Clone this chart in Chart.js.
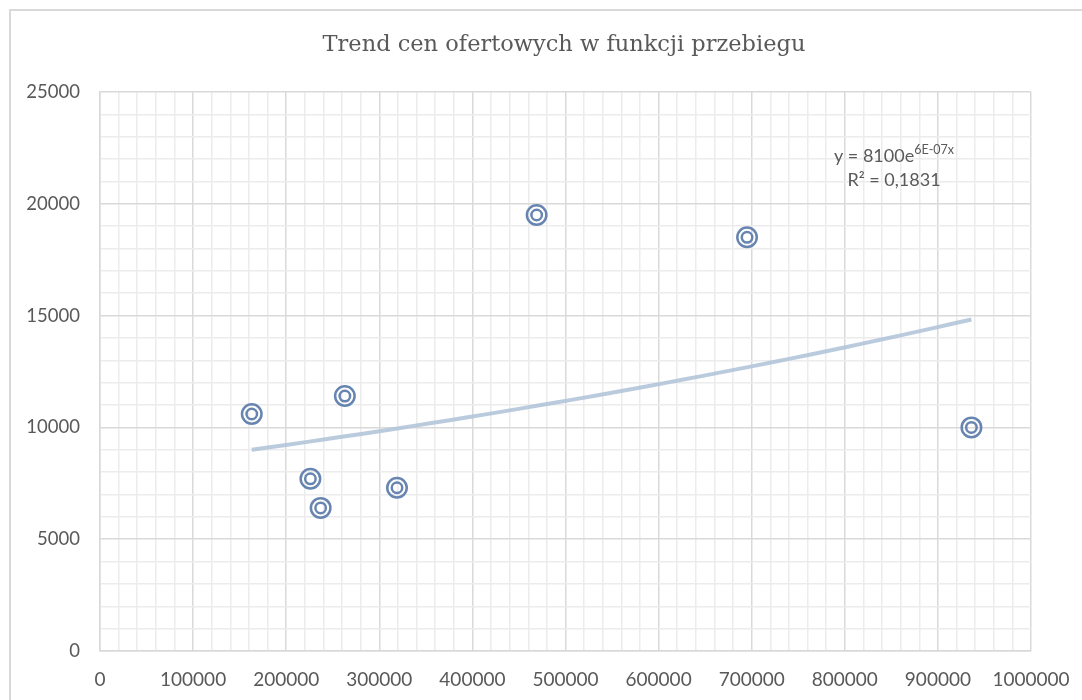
<!DOCTYPE html>
<html>
<head>
<meta charset="utf-8">
<script src="https://cdn.jsdelivr.net/npm/chart.js@4"></script>
<style>
  html, body { margin: 0; padding: 0; background: #fff; }
  canvas { display: block; }
</style>
</head>
<body>
<canvas id="trendChart" width="1082" height="700"></canvas>
<script>
// Cena ofertowa vs przebieg
const mileage = [163000, 226000, 237000, 263000, 319000, 469000, 695000, 936000];
const prices = [10600, 7700, 6400, 11400, 7300, 19500, 18500, 10000];

const chartTitle = 'Trend cen ofertowych w funkcji przebiegu';
const eqMain = 'y = 8100e';
const eqExp = '6E-07x';
const eqR2 = 'R² = 0,1831';

const MARKER = '#6785b0';
const TICK_COLOR = '#595959';
const MAJOR = '#d9d9d9';
const MINOR = '#ececec';

// exponential trendline, least squares on ln(y) like Excel does
function expFit(xs, ys) {
  const n = xs.length;
  const ls = ys.map(v => Math.log(v));
  const mx = xs.reduce((s, v) => s + v, 0) / n;
  const ml = ls.reduce((s, v) => s + v, 0) / n;
  let sxy = 0, sxx = 0;
  xs.forEach((x, i) => { sxy += (x - mx) * (ls[i] - ml); sxx += (x - mx) ** 2; });
  const b = sxy / sxx;
  return { a: Math.exp(ml - b * mx), b };
}

const fit = expFit(mileage, prices);
const xMin = Math.min(...mileage);
const xMax = Math.max(...mileage);
const trendPts = [];
for (let i = 0; i <= 40; i++) {
  const x = xMin + (xMax - xMin) * i / 40;
  trendPts.push({ x, y: fit.a * Math.exp(fit.b * x) });
}

const points = mileage.map((x, i) => ({ x, y: prices[i] }));

// outer frame, title + equation label
const decorPlugin = {
  id: 'decor',
  beforeDraw(chart) {
    const c = chart.ctx;
    c.save();
    c.strokeStyle = '#d9d9d9';
    c.lineWidth = 2;
    c.strokeRect(10, 10, 1200, 900);
    c.fillStyle = TICK_COLOR;
    c.font = '22.5px "DejaVu Serif"';
    c.textAlign = 'center';
    c.textBaseline = 'middle';
    c.fillText(chartTitle, 564, 45);
    c.restore();
  },
  afterDraw(chart) {
    const c = chart.ctx;
    c.save();
    c.fillStyle = TICK_COLOR;
    c.textBaseline = 'alphabetic';
    c.font = '18px Lato';
    const w1 = c.measureText(eqMain).width;
    c.font = '12.5px Lato';
    const w2 = c.measureText(eqExp).width;
    const left = 894 - (w1 + w2) / 2;
    c.font = '18px Lato';
    c.textAlign = 'left';
    c.fillText(eqMain, left, 162);
    c.font = '12.5px Lato';
    c.fillText(eqExp, left + w1, 154);
    c.font = '18px Lato';
    c.textAlign = 'center';
    c.fillText(eqR2, 894, 186);
    c.restore();
  }
};

const gridColor = (step) => (ctx) =>
  ctx.tick && Math.round(ctx.tick.value) % step === 0 ? MAJOR : MINOR;

new Chart(document.getElementById('trendChart'), {
  type: 'scatter',
  data: {
    datasets: [
      {
        label: 'Trend',
        type: 'line',
        data: trendPts,
        borderColor: 'rgba(180,197,218,0.9)',
        borderWidth: 4,
        pointRadius: 0,
        fill: false,
        tension: 0,
        order: 3
      },
      {
        label: 'Oferty',
        data: points,
        pointStyle: 'circle',
        pointRadius: 9.75,
        pointBorderWidth: 2.5,
        pointBorderColor: MARKER,
        pointBackgroundColor: 'rgba(0,0,0,0)',
        order: 1
      },
      {
        label: 'Oferty (inner)',
        data: points,
        pointStyle: 'circle',
        pointRadius: 5.25,
        pointBorderWidth: 2.5,
        pointBorderColor: MARKER,
        pointBackgroundColor: 'rgba(0,0,0,0)',
        order: 0
      }
    ]
  },
  options: {
    responsive: false,
    animation: false,
    layout: { padding: { left: 0, right: 51, top: 92, bottom: 0 } },
    plugins: {
      legend: { display: false },
      tooltip: { enabled: false },
      title: { display: false }
    },
    scales: {
      x: {
        type: 'linear',
        min: 0,
        max: 1000000,
        afterFit: (s) => { s.height = 49; s.paddingLeft = 0; s.paddingRight = 0; },
        grid: { color: gridColor(100000), drawTicks: false, lineWidth: 1.5 },
        border: { color: MAJOR, width: 1.5 },
        ticks: {
          stepSize: 20000,
          autoSkip: false,
          maxRotation: 0,
          padding: 17,
          color: TICK_COLOR,
          font: { family: 'Lato', size: 19 },
          callback: (v) => (v % 100000 === 0 ? String(v) : '')
        }
      },
      y: {
        min: 0,
        max: 25000,
        afterFit: (s) => { s.width = 100; s.paddingTop = 0; s.paddingBottom = 0; },
        grid: { color: gridColor(5000), drawTicks: false, lineWidth: 1.5 },
        border: { color: MAJOR, width: 1.5 },
        ticks: {
          stepSize: 1000,
          autoSkip: false,
          padding: 20,
          color: TICK_COLOR,
          font: { family: 'Lato', size: 18.5 },
          callback: (v) => (v % 5000 === 0 ? String(v) : '')
        }
      }
    }
  },
  plugins: [decorPlugin]
});
</script>
</body>
</html>
